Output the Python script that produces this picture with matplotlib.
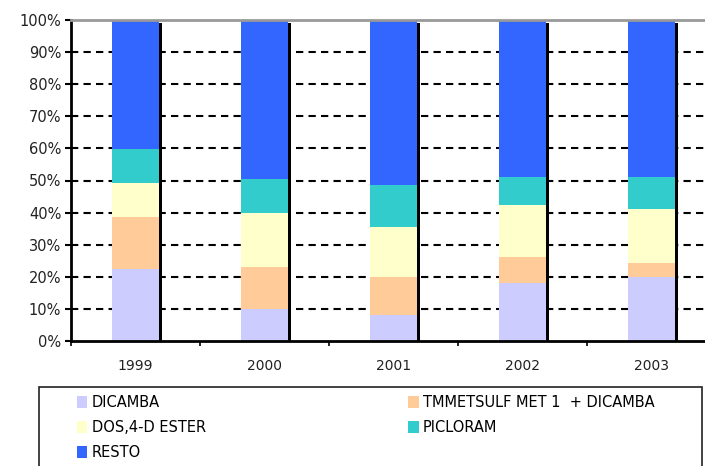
import matplotlib
matplotlib.use("Agg")
import matplotlib.pyplot as plt
import numpy as np
from matplotlib.patches import Patch, Rectangle

# Share of each herbicide per year (%)
years = ["1999", "2000", "2001", "2002", "2003"]
dicamba = [22.3, 9.9, 8.1, 18.0, 19.8]
tmmetsulf = [16.2, 13.1, 11.7, 8.1, 4.4]
dos_4d = [10.6, 16.8, 15.6, 16.2, 16.8]
picloram = [10.6, 10.6, 13.1, 8.7, 10.0]
resto = [40.3, 49.6, 51.5, 49.0, 49.0]

series_names = ["DICAMBA", "TMMETSULF MET 1  + DICAMBA", "DOS,4-D ESTER",
                "PICLORAM", "RESTO"]
series_values = [dicamba, tmmetsulf, dos_4d, picloram, resto]
colors = ["#CCCCFF", "#FFCC99", "#FFFFCC", "#33CCCC", "#3366FF"]

y_ticks = list(range(0, 101, 10))
y_tick_labels = [f"{v}%" for v in y_ticks]

W, H = 705, 466
fig = plt.figure(figsize=(W / 100, H / 100), dpi=100)
fig.patch.set_facecolor("white")

# plot area runs slightly past the right edge of the figure
ax = fig.add_axes([71 / W, (H - 341) / H, (716 - 71) / W, (341 - 20) / H])

x = np.arange(len(years))
bar_w = 0.357
shadow_w = 0.03

# dashed gridlines behind the bars
for v in y_ticks[1:-1]:
    ax.axhline(v, color="black", lw=1.5, linestyle=(0, (3.5, 2.5)), zorder=1)

bottom = np.zeros(len(years))
for vals, col in zip(series_values, colors):
    vals = np.asarray(vals)
    ax.bar(x, vals, bar_w, bottom=bottom, color=col, edgecolor="none", zorder=2)
    bottom += vals

# black side shading to the right of each column
ax.bar(x + bar_w / 2 + shadow_w / 2, bottom - 1, shadow_w, color="black",
       edgecolor="none", zorder=2)

ax.set_xlim(-0.5, len(years) - 0.5)
ax.set_ylim(0, 100)

ax.set_yticks(y_ticks)
ax.set_yticklabels(y_tick_labels)
ax.set_xticks(x)
ax.set_xticklabels(years)
ax.set_xticks(np.arange(len(years) + 1) - 0.5, minor=True)

ax.tick_params(axis="y", direction="out", length=4, width=1.5, pad=3,
               labelsize=10.5, labelcolor="#222222", color="black")
ax.tick_params(axis="x", which="major", length=0, pad=13, labelsize=10,
               labelcolor="#222222")
ax.tick_params(axis="x", which="minor", direction="out", length=3.5, width=1.2,
               color="black")

for side in ["left", "bottom"]:
    ax.spines[side].set_color("black")
    ax.spines[side].set_linewidth(2)
ax.spines["top"].set_color("#999999")
ax.spines["top"].set_linewidth(2)
ax.spines["right"].set_visible(False)

# legend frame
fig.patches.append(Rectangle((39 / W, -0.02), (702 - 39) / W, (H - 387) / H + 0.02,
                             transform=fig.transFigure, facecolor="white",
                             edgecolor="#222222", lw=1.2, zorder=0))

handles = [Patch(facecolor=c, edgecolor="none") for c in colors]
order = [0, 2, 4, 1, 3]
leg = fig.legend([handles[i] for i in order], [series_names[i] for i in order],
                 ncol=2, loc="upper left", bbox_to_anchor=(77 / W, (H - 395) / H),
                 frameon=False, fontsize=10.5, handlelength=0.7, handleheight=0.9,
                 handletextpad=0.3, labelspacing=0.69, columnspacing=13.9,
                 borderaxespad=0, borderpad=0)

fig.savefig("out.png", dpi=100, facecolor="white")
